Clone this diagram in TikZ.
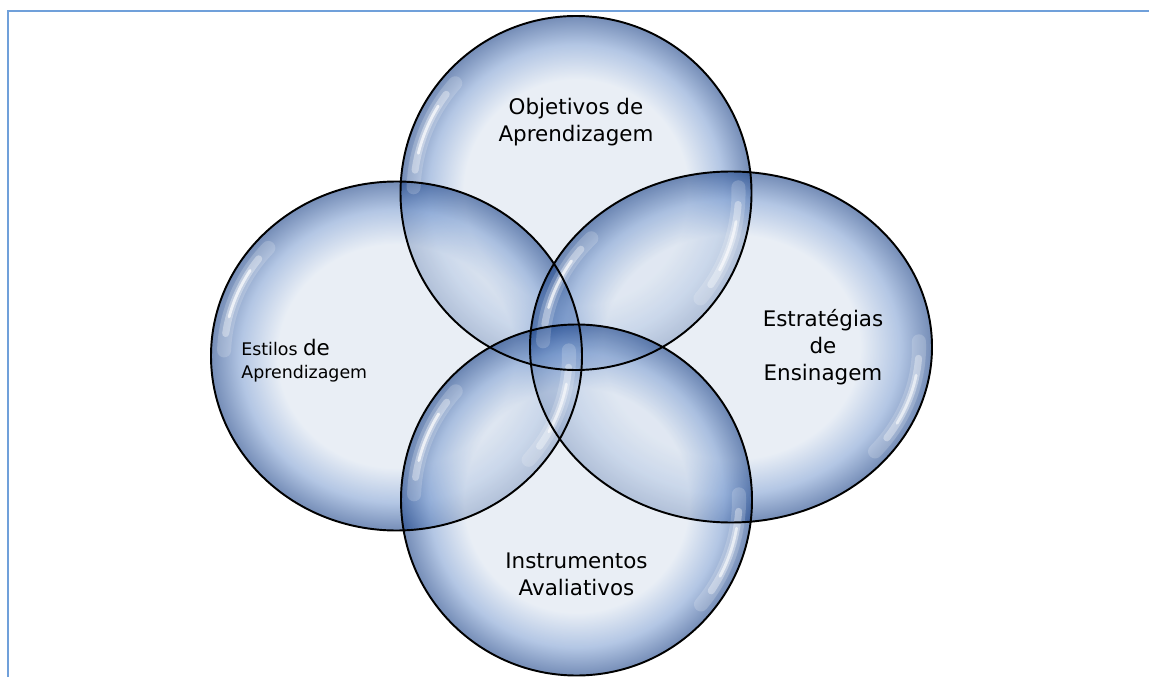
\documentclass[tikz,border=0pt]{standalone}
\usepackage{fontspec}
\setmainfont{DejaVu Sans}

\definecolor{frameblue}{RGB}{112,160,218}
\definecolor{bubblelight}{RGB}{218,227,239}
\definecolor{bubblemid}{RGB}{128,160,210}
\definecolor{bubbledark}{RGB}{25,65,135}

% glassy fill, the rim darkens towards the border
\pgfdeclareradialshading{bubble}{\pgfpoint{0bp}{0bp}}{%
  color(0bp)=(bubblelight); color(16bp)=(bubblelight);
  color(21bp)=(bubblemid); color(25bp)=(bubbledark);
  color(50bp)=(bubbledark)}

\begin{document}
\begin{tikzpicture}[x=0.02cm, y=0.02cm,
    glass/.style = {shade, shading=bubble, fill opacity=0.6},
    gloss/.style = {draw=white, line cap=round},
    txt/.style = {font=\fontsize{12.2}{15.9}\selectfont, align=center, inner sep=0pt}]
  \useasboundingbox (0,0) rectangle (1149,677);
  \draw[frameblue, line width=1.4pt] (8,0) -- (8,666) -- (1149,666);

  \def\bubbles{576/484/175.5/177, 396.5/321/185.5/174.5,
    731/330/201/175.5, 576.5/177/175.5/175.5}

  % fills
  \foreach \cx/\cy/\rx/\ry in \bubbles
    \path[glass] (\cx,\cy) ellipse [x radius=\rx, y radius=\ry];

  % highlights
  \foreach \cx/\cy/\rx/\ry [evaluate=\rx as \gx using \rx-13,
      evaluate=\ry as \gy using \ry-13] in \bubbles {
    \draw[gloss, line width=8pt, opacity=0.18] (\cx,\cy) ++(138:{\gx} and {\gy})
      arc[start angle=138, end angle=178, x radius=\gx, y radius=\gy];
    \draw[gloss, line width=4pt, opacity=0.35] (\cx,\cy) ++(143:{\gx} and {\gy})
      arc[start angle=143, end angle=172, x radius=\gx, y radius=\gy];
    \draw[gloss, line width=1.6pt, opacity=0.7] (\cx,\cy) ++(148:{\gx} and {\gy})
      arc[start angle=148, end angle=166, x radius=\gx, y radius=\gy];
    \draw[gloss, line width=8pt, opacity=0.18] (\cx,\cy) ++(-40:{\gx} and {\gy})
      arc[start angle=-40, end angle=2, x radius=\gx, y radius=\gy];
    \draw[gloss, line width=4pt, opacity=0.35] (\cx,\cy) ++(-34:{\gx} and {\gy})
      arc[start angle=-34, end angle=-4, x radius=\gx, y radius=\gy];
    \draw[gloss, line width=1.6pt, opacity=0.6] (\cx,\cy) ++(-28:{\gx} and {\gy})
      arc[start angle=-28, end angle=-10, x radius=\gx, y radius=\gy];
  }

  % outlines
  \foreach \cx/\cy/\rx/\ry in \bubbles
    \draw[line width=1.1pt] (\cx,\cy) ellipse [x radius=\rx, y radius=\ry];

  \node[txt, anchor=base] (objetivos) at (576,535) {Objetivos de\\Aprendizagem};
  \node[txt, anchor=base west, align=left, font=\fontsize{9.9}{13}\selectfont]
    (estilos) at (241,299) {Estilos {\fontsize{12.2}{13}\selectfont de}\\Aprendizagem};
  \node[txt, anchor=base, font=\fontsize{12.2}{15.3}\selectfont]
    (estrategias) at (823,297) {Estratégias\\de\\Ensinagem};
  \node[txt, anchor=base, font=\fontsize{12.2}{15.3}\selectfont]
    (instrumentos) at (576.5,82) {Instrumentos\\Avaliativos};
\end{tikzpicture}
\end{document}
